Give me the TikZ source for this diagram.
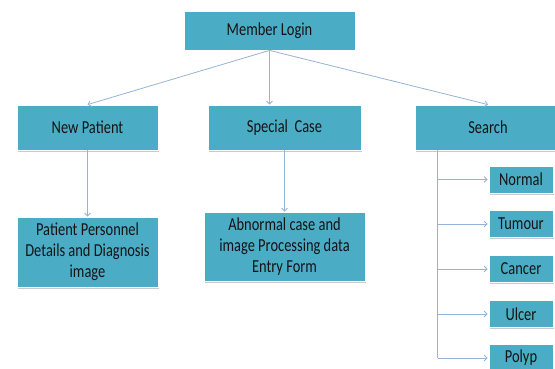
\documentclass[tikz,border=0pt]{standalone}
\usepackage{fontspec}
\setmainfont{Carlito}[FakeStretch=0.79]
\usetikzlibrary{arrows.meta,shadows,calc}
\definecolor{boxfill}{HTML}{4BACC6}
\definecolor{linkcol}{HTML}{95B3D7}
\definecolor{txtcol}{HTML}{141414}
\tikzset{
  box/.style={rectangle, fill=boxfill, draw=white, line width=0.8pt,
    inner sep=0pt, align=center, text=txtcol,
    font=\fontsize{18.3}{21}\selectfont,
    drop shadow={shadow xshift=1pt, shadow yshift=-1.5pt, opacity=0.35, fill=black!60}},
  link/.style={draw=linkcol, line width=0.8pt, -{Straight Barb[length=3pt,width=6pt]}},
  trunkline/.style={draw=linkcol, line width=0.8pt}
}
\begin{document}
\begin{tikzpicture}[x=1pt,y=-1pt]
\useasboundingbox (0,0) rectangle (555,369);
\begin{scope}
\clip (0,0) rectangle (555,369);
\node[box, minimum width=171pt, minimum height=39pt] (ml) at (269.5,30.5) {Member Login};
\node[box, minimum width=141pt, minimum height=45pt] (np) at (87.5,127.5) {New Patient};
\node[box, minimum width=153pt, minimum height=45pt] (sc) at (284.5,127.5) {Special\ \ Case};
\node[box, minimum width=146pt, minimum height=45pt] (se) at (488,127.5) {Search};
\node[box, minimum width=141pt, minimum height=70pt] (pp) at (87.5,252) {Patient Personnel\\Details and Diagnosis\\image};
\node[box, minimum width=161pt, minimum height=69pt] (ab) at (284.5,246.5) {Abnormal case and\\image Processing data\\Entry Form};
\node[box, minimum width=64pt, minimum height=27pt] (no) at (521,179.5) {Normal};
\node[box, minimum width=64pt, minimum height=27pt] (tu) at (521,224) {Tumour};
\node[box, minimum width=64pt, minimum height=27pt] (ca) at (521,269) {Cancer};
\node[box, minimum width=64pt, minimum height=27pt] (ul) at (521,314) {Ulcer};
\node[box, minimum width=64pt, minimum height=27pt] (po) at (521,358) {Polyp};

\draw[link] (ml.south) -- (np.north);
\draw[link] (ml.south) -- (ml.south |- sc.north);
\draw[link] (ml.south) -- (se.north);
\draw[link] (np.south) -- (pp.north);
\draw[link] (sc.south) -- (ab.north);

\coordinate (tt) at ($(se.south west)+(23,0)$);
\coordinate (tb) at (tt |- po.west);
\draw[trunkline] (tt) -- (tb);
\draw[link] (tt |- no.west) -- ($(no.west)+(-1,0)$);
\draw[link] (tt |- tu.west) -- ($(tu.west)+(-1,0)$);
\draw[link] (tt |- ca.west) -- ($(ca.west)+(-1,0)$);
\draw[link] (tt |- ul.west) -- ($(ul.west)+(-1,0)$);
\draw[link] (tb) -- ($(po.west)+(-1,0)$);
\end{scope}
\end{tikzpicture}
\end{document}
